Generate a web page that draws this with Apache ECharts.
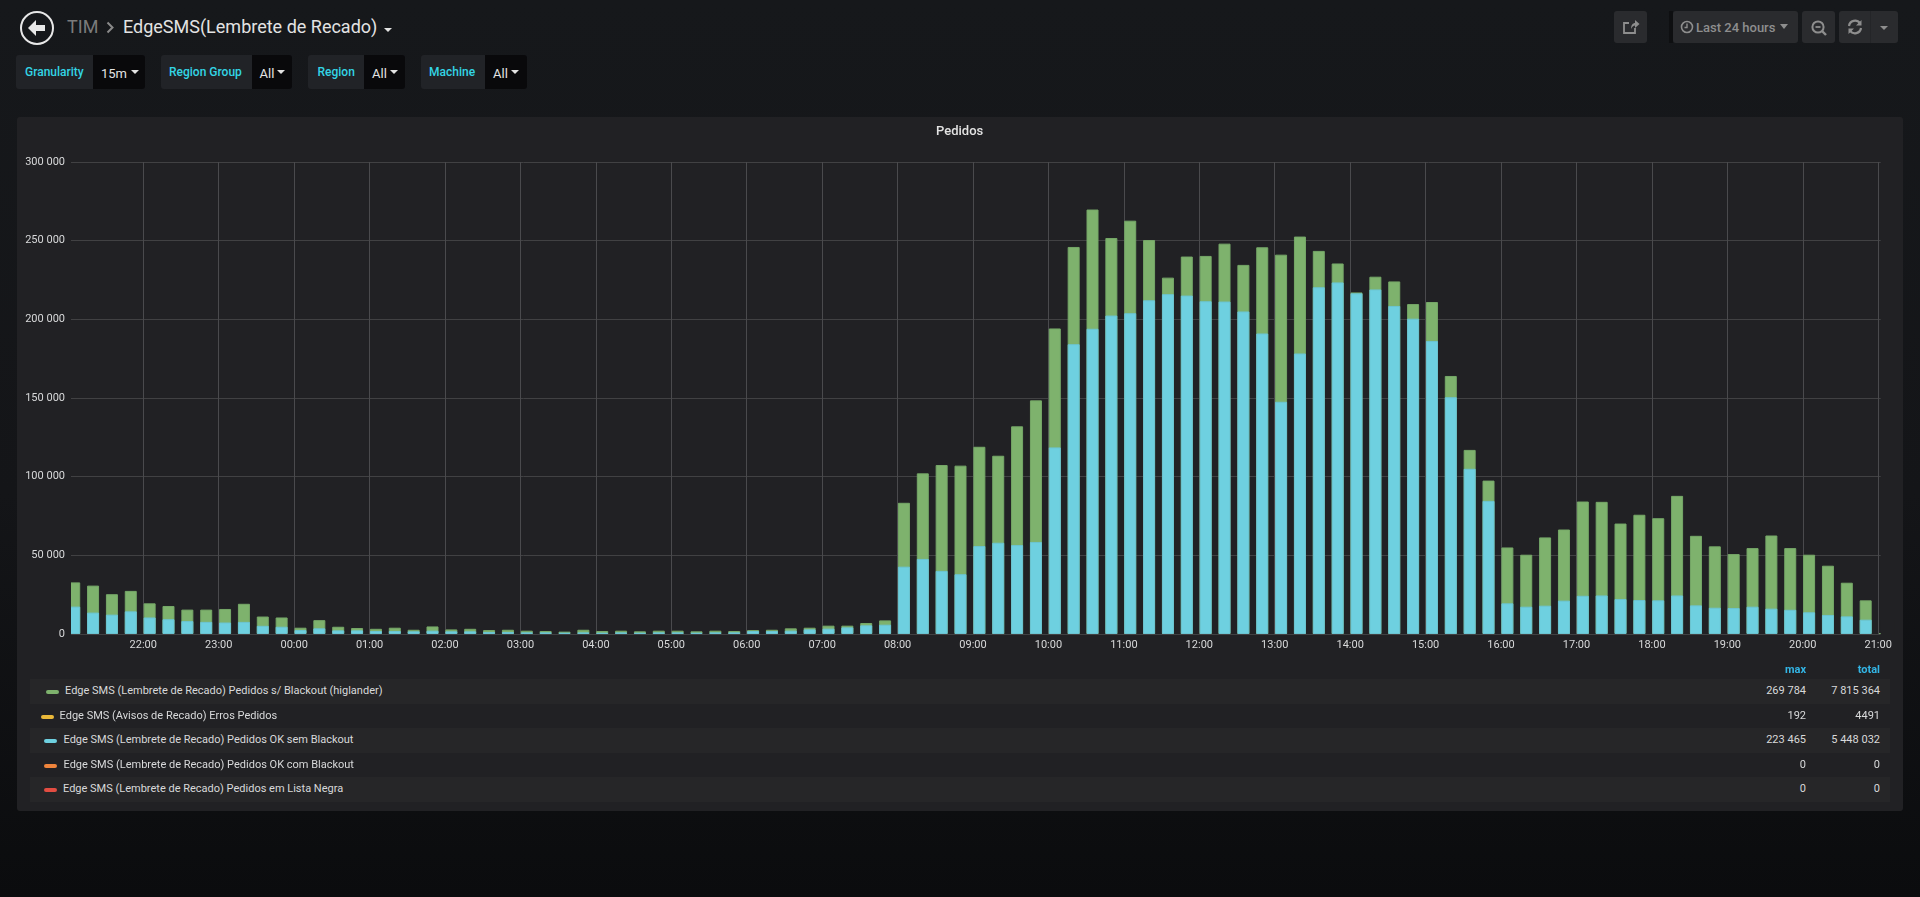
<!DOCTYPE html>
<html><head><meta charset="utf-8">
<script src="https://cdn.jsdelivr.net/npm/echarts@6/dist/echarts.min.js"></script>
<style>
html,body{margin:0;padding:0;width:1920px;height:897px;overflow:hidden;font-family:Roboto,sans-serif;background:linear-gradient(180deg,#16181b 0%,#141518 55%,#0b0c0e 100%);}
.a{position:absolute;white-space:nowrap;}
.btn{position:absolute;top:11px;height:32px;background:#2a2b2e;border-radius:3px;}
.t{position:absolute;white-space:nowrap;line-height:1;transform:translateY(-50%);}
.caret{position:absolute;width:0;height:0;border-left:4px solid transparent;border-right:4px solid transparent;border-top:4px solid #e3e3e3;}
#panel{position:absolute;left:17px;top:117px;width:1886px;height:694px;background:#212124;border-radius:3px;}
#main{position:absolute;left:0;top:0;width:1920px;height:897px;}
.row{position:absolute;left:30px;width:1860px;height:25px;}
.sw{position:absolute;width:13px;height:4px;border-radius:2px;}
</style></head><body>
<svg class="a" style="left:19px;top:11px" width="36" height="36" viewBox="0 0 36 36"><circle cx="18" cy="17" r="16" fill="none" stroke="#e8e8e8" stroke-width="2"/><path d="M17 9 L9 17 L17 25 L17 20 L26 20 L26 14 L17 14 Z" fill="#e8e8e8"/></svg>
<div class="t" style="left:67px;top:27px;font-size:18px;color:#7b7b7b">TIM</div>
<svg class="a" style="left:106px;top:21px" width="9" height="13" viewBox="0 0 9 13"><path d="M1.5 1.5 L6.5 6.5 L1.5 11.5" fill="none" stroke="#8a8a8a" stroke-width="2"/></svg>
<div class="t" style="left:123px;top:27px;font-size:18px;color:#e3e3e3" id="dash">EdgeSMS(Lembrete de Recado)</div>
<div class="caret" style="left:384px;top:28px;"></div>

<div class="btn" style="left:1614px;width:33px"></div>
<svg class="a" style="left:1622px;top:18px" width="18" height="18" viewBox="0 0 18 18"><path d="M13 10 V15 H2 V5 H7" fill="none" stroke="#8e8e8e" stroke-width="1.8"/><path d="M9 11 C9 7 11 5 13 5 V2 L17.5 6 L13 10 V7.5 C11.5 7.5 10 9 9 11Z" fill="#8e8e8e"/></svg>
<div class="a" style="left:1669px;top:11px;width:4px;height:32px;background:#0e0f11"></div>
<div class="btn" style="left:1673px;width:125px"></div>
<svg class="a" style="left:1680px;top:20px" width="14" height="14" viewBox="0 0 14 14"><circle cx="7" cy="7" r="5.5" fill="none" stroke="#8e8e8e" stroke-width="1.6"/><path d="M7 3.5 V7.5 H4.5" fill="none" stroke="#8e8e8e" stroke-width="1.4"/></svg>
<div class="t" style="left:1696px;top:27px;font-size:13px;color:#8e8e8e;font-weight:500">Last 24 hours</div>
<div class="caret" style="left:1780px;top:24px;border-top-color:#8e8e8e;border-left-width:4.5px;border-right-width:4.5px;border-top-width:5px"></div>
<div class="btn" style="left:1802px;width:33px"></div>
<svg class="a" style="left:1810px;top:19px" width="18" height="18" viewBox="0 0 18 18"><circle cx="8" cy="8" r="5.6" fill="none" stroke="#8e8e8e" stroke-width="2"/><path d="M5.5 8 H10.5" stroke="#8e8e8e" stroke-width="1.8"/><path d="M12 12 L16 16" stroke="#8e8e8e" stroke-width="2.4"/></svg>
<div class="btn" style="left:1839px;width:59px"></div>
<div class="a" style="left:1870px;top:11px;width:1px;height:32px;background:#242528"></div>
<svg class="a" style="left:1847px;top:19px" width="16" height="16" viewBox="0 0 16 16"><path d="M2 7 A6 6 0 0 1 13 4.5 M14 9 A6 6 0 0 1 3 11.5" fill="none" stroke="#8e8e8e" stroke-width="2.2"/><path d="M14.5 1 V6.5 H9Z M1.5 15 V9.5 H7Z" fill="#8e8e8e"/></svg>
<div class="caret" style="left:1880px;top:26px;border-top-color:#8e8e8e;"></div>

<div id="vars"></div>
<div id="panel"></div>
<div id="main"></div>
<div id="legendRows"></div>

<script>
const timeLabels = [
"21:00","21:15","21:30","21:45","22:00","22:15","22:30","22:45","23:00","23:15","23:30","23:45",
"00:00","00:15","00:30","00:45","01:00","01:15","01:30","01:45","02:00","02:15","02:30","02:45",
"03:00","03:15","03:30","03:45","04:00","04:15","04:30","04:45","05:00","05:15","05:30","05:45",
"06:00","06:15","06:30","06:45","07:00","07:15","07:30","07:45","08:00","08:15","08:30","08:45",
"09:00","09:15","09:30","09:45","10:00","10:15","10:30","10:45","11:00","11:15","11:30","11:45",
"12:00","12:15","12:30","12:45","13:00","13:15","13:30","13:45","14:00","14:15","14:30","14:45",
"15:00","15:15","15:30","15:45","16:00","16:15","16:30","16:45","17:00","17:15","17:30","17:45",
"18:00","18:15","18:30","18:45","19:00","19:15","19:30","19:45","20:00","20:15","20:30","20:45","21:00"];
const pedidosTotal = [
32800,30750,25300,27400,19500,17800,15500,15500,15900,19200,11100,10500,
4000,8800,4600,3800,3300,4000,2700,4800,2900,3300,2500,2700,
2100,1900,1500,2700,1900,2100,1700,2100,2100,1700,2100,1900,
2500,2700,3600,4000,5300,5300,7000,8650,83400,102100,107400,107000,
119000,113300,132000,148500,194200,246000,269784,251700,262700,250400,226500,239900,
240300,248100,234600,245800,241100,252600,243500,235500,217100,227100,224100,209700,
211000,164000,117000,97500,55000,50400,61400,66400,84200,84000,70200,75800,
73600,87800,62400,55700,50800,54600,62600,54600,50400,43400,32600,21400,600];
const errosPedidos = [
40,35,30,32,22,20,18,18,18,22,12,12,
5,10,5,4,4,5,3,5,3,4,3,3,
2,2,2,3,2,2,2,2,2,2,2,2,
3,3,4,5,6,6,8,10,95,110,112,110,
120,115,130,140,160,175,192,170,170,165,150,155,
150,155,140,150,145,150,140,130,110,110,100,95,
90,70,55,45,25,22,28,30,38,38,32,34,
32,40,28,25,22,24,28,24,22,19,14,9,1];
const pedidosOk = [
17400,13600,12300,14400,10500,9400,8200,7700,7300,7700,5200,4600,
2500,3600,2300,2300,1900,1900,1700,2100,1700,1700,1300,1300,
1050,1050,850,1050,850,1050,850,1050,1050,850,1050,1050,
1900,1900,2100,2950,3400,4200,5500,5900,42800,47700,40100,38000,
55900,58000,56500,58500,118600,184200,194000,202400,203900,212100,216000,215100,
211500,211300,205000,191000,147600,178300,220400,223465,216500,219000,208500,200400,
186200,150500,105000,84600,19500,17350,18000,21200,24300,24500,22200,21600,
21400,24500,18200,16700,16500,17350,16100,15400,13800,12100,11200,9100,null];
const pedidosBlackout = timeLabels.map(()=>0);
const pedidosLista = timeLabels.map(()=>0);
const legendNames = [
"Edge SMS (Lembrete de Recado) Pedidos s/ Blackout (higlander)",
"Edge SMS (Avisos de Recado) Erros Pedidos",
"Edge SMS (Lembrete de Recado) Pedidos OK sem Blackout",
"Edge SMS (Lembrete de Recado) Pedidos OK com Blackout",
"Edge SMS (Lembrete de Recado) Pedidos em Lista Negra"];
const legendMax = ["269 784","192","223 465","0","0"];
const legendTotal = ["7 815 364","4491","5 448 032","0","0"];
const seriesColors = ["#7eb26d","#eab839","#6ed0e0","#ef843c","#e24d42"];
const seriesData = [pedidosTotal,errosPedidos,pedidosOk,pedidosBlackout,pedidosLista];
const seriesBorders = ["#76a868","#eab839","#6bc4d2","#ef843c","#e24d42"];
const variableNames = ["Granularity","Region Group","Region","Machine"];
const variableValues = ["15m","All","All","All"];

/* ---- layout only below ---- */
const varBoxes=[[16,93,145,25,101,134.7],[161,252,292,169,259.6,281],[308,364,405,317.5,372,394],[421,484.5,526.5,429,493,515]];
let vh='';
variableNames.forEach((n,i)=>{const b=varBoxes[i];
 vh+=`<div class="a" style="left:${b[0]}px;top:55px;width:${b[1]-b[0]}px;height:34px;background:#212327;border-radius:3px 0 0 3px"></div>`+
 `<div class="a" style="left:${b[1]}px;top:55px;width:${b[2]-b[1]}px;height:34px;background:#09090b;border-radius:0 3px 3px 0"></div>`+
 `<div class="t" style="left:${b[3]}px;top:72px;font-size:12px;font-weight:500;color:#33d5e5">${n}</div>`+
 `<div class="t" style="left:${b[4]}px;top:73px;font-size:13px;color:#e3e3e3">${variableValues[i]}</div>`+
 `<div class="caret" style="left:${b[5]-4}px;top:70px"></div>`;});
document.getElementById('vars').innerHTML=vh;

const rowTops=[679,704,728,752.7,776.7], rowBg=[1,0,1,0,1], swX=[46,41,44,44,44], txtX=[65,59.6,63.5,63.5,63];
let lh=`<div class="t" style="right:${1920-1806}px;top:669px;font-size:11px;font-weight:700;color:#33b5e5">max</div>`+
 `<div class="t" style="right:${1920-1880}px;top:669px;font-size:11px;font-weight:700;color:#33b5e5">total</div>`;
legendNames.forEach((n,i)=>{
 const c=rowTops[i]+11;
 if(rowBg[i]) lh+=`<div class="row" style="top:${rowTops[i]}px;background:#262628"></div>`;
 lh+=`<div class="sw" style="left:${swX[i]}px;top:${c}px;background:${seriesColors[i]}"></div>`+
 `<div class="t" style="left:${txtX[i]}px;top:${c}px;font-size:11px;color:#d8d9da">${n}</div>`+
 `<div class="t" style="right:${1920-1806}px;top:${c}px;font-size:11px;color:#d8d9da">${legendMax[i]}</div>`+
 `<div class="t" style="right:${1920-1880}px;top:${c}px;font-size:11px;color:#d8d9da">${legendTotal[i]}</div>`;
});
document.getElementById('legendRows').innerHTML=lh;

const HOUR=3600000, MIN=60000, day0=Date.UTC(2018,0,1);
const GRID={left:71,right:39.3,top:162,bottom:263};
function toMs(lbl,i){const [h,m]=lbl.split(':').map(Number);
 return day0+(i>=12?24:0)*HOUR+h*HOUR+m*MIN;}
const xs=timeLabels.map(toMs);
const barPx=12, pxPerMin=75.43/60;
const barShift=(barPx/2+0.35)/pxPerMin*MIN;   // bars start at their timestamp, ECharts centres them
// ECharts widens a time axis by half a bar each side when bars sit on it, so inset by the same
const inset=(barPx/2)/pxPerMin*MIN;
const xMin=day0+21*HOUR+2.5*MIN+inset, xMax=day0+45*HOUR+2*MIN-inset;
const chart=echarts.init(document.getElementById('main'),null,{renderer:'canvas'});
// bars on a time axis are not clipped to the grid by ECharts: panel-coloured masks do it
const maskStyle={fill:'#212124'};
chart.setOption({
 backgroundColor:'transparent',animation:false,useUTC:true,
 textStyle:{fontFamily:'Roboto'},
 title:{text:'Pedidos',left:931,top:120,textStyle:{color:'#e3e3e3',fontSize:13,fontWeight:500,fontFamily:'Roboto'}},
 grid:GRID,
 graphic:[
  {type:'rect',z:100,left:GRID.left-5,top:570,shape:{width:5,height:66},style:maskStyle,silent:true},
  {type:'rect',z:100,left:1920-GRID.right,top:620,shape:{width:14,height:16},style:maskStyle,silent:true}
 ],
 xAxis:{type:'time',min:xMin,max:xMax,splitNumber:24,minInterval:HOUR,maxInterval:HOUR,
  axisLine:{show:false},axisTick:{show:false},
  axisLabel:{color:'#d8d9da',fontSize:11,margin:6,showMinLabel:false,showMaxLabel:false,hideOverlap:false,
   formatter:v=>{if(v%HOUR!==0)return '';const h=new Date(v).getUTCHours();return (h<10?'0':'')+h+':00';}},
  splitLine:{show:true,showMinLine:false,showMaxLine:false,lineStyle:{color:'#4a4a4d',width:1}}},
 yAxis:{type:'value',min:0,max:300000,interval:50000,
  axisLine:{show:false},axisTick:{show:false},
  axisLabel:{color:'#d8d9da',fontSize:11,margin:6,formatter:v=>String(v).replace(/\B(?=(\d{3})+$)/g,' ')},
  splitLine:{show:true,lineStyle:{color:'#414143',width:1}}},
 series:legendNames.map((n,i)=>({
  name:n,type:'bar',barWidth:barPx,barGap:'-100%',
  itemStyle:{color:seriesColors[i],borderColor:seriesBorders[i],borderWidth:(i===0||i===2)?1:0,opacity:1},
  emphasis:{disabled:true},
  data:seriesData[i].map((v,k)=>[xs[k]+barShift,v])
 }))
});
</script>
</body></html>
